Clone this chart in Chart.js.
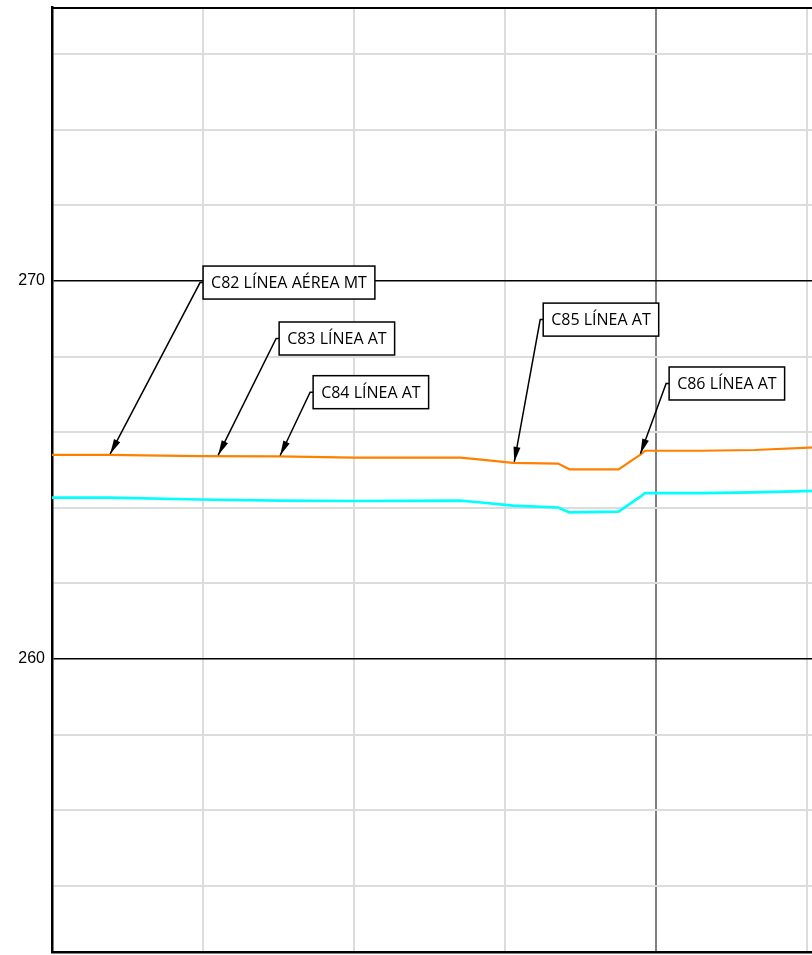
<!DOCTYPE html>
<html>
<head>
<meta charset="utf-8">
<script src="https://cdn.jsdelivr.net/npm/chart.js@4/dist/chart.umd.min.js"></script>
<style>
html, body { margin: 0; padding: 0; background: #fff; overflow: hidden; }
#wrap { position: relative; width: 898px; height: 955px; }
</style>
</head>
<body>
<div id="wrap"><canvas id="graph1"></canvas></div>
<script>
// perfil: abscisa (m) y cotas (m)
var chainage = [20, 27.5, 39.5, 50, 60, 74, 76.5, 81, 87, 88.5, 95, 98, 98.5, 106, 113, 121, 126];
var cotaNaranja = [265.40, 265.40, 265.37, 265.36, 265.33, 265.33, 265.28, 265.19, 265.17, 265.02, 265.02, 265.42, 265.51, 265.51, 265.53, 265.60, 265.66];
var cotaCian = [264.27, 264.27, 264.22, 264.19, 264.18, 264.19, 264.15, 264.06, 264.01, 263.88, 263.90, 264.31, 264.39, 264.39, 264.41, 264.45, 264.48];

var yTicks = [254, 256, 258, 260, 262, 264, 266, 268, 270, 272, 274, 276];
var xTicks = [20, 40, 60, 80, 100, 120];

var labelText = ['C82 LÍNEA AÉREA MT', 'C83 LÍNEA AT', 'C84 LÍNEA AT', 'C85 LÍNEA AT', 'C86 LÍNEA AT'];
var labelChainage = [27.7, 42, 50.2, 81.2, 97.9];

// where the label boxes sit (left edge, middle), in axis units
var boxPos = [[40, 269.96], [50.07, 268.48], [54.57, 267.06], [85.03, 268.98], [101.7, 267.29]];

function cotaAt(x) {
    for (var i = 1; i < chainage.length; i++) {
        if (x <= chainage[i]) {
            var t = (x - chainage[i - 1]) / (chainage[i] - chainage[i - 1]);
            return cotaNaranja[i - 1] + t * (cotaNaranja[i] - cotaNaranja[i - 1]);
        }
    }
    return cotaNaranja[cotaNaranja.length - 1];
}

var etiquetas = {
    id: 'etiquetas',
    beforeDatasetsDraw: function(chart) {
        var c = chart.ctx, a = chart.chartArea;
        c.save();
        c.strokeStyle = '#000';
        c.lineWidth = 2;
        c.beginPath();
        c.moveTo(a.left, a.top + 1);
        c.lineTo(a.right, a.top + 1);
        c.stroke();
        c.restore();
    },
    afterDatasetsDraw: function(chart) {
        var c = chart.ctx;
        var xs = chart.scales.x, ys = chart.scales.y;
        c.save();
        c.font = '16px "Open Sans"';
        c.textBaseline = 'middle';
        for (var i = 0; i < labelText.length; i++) {
            var tx = xs.getPixelForValue(labelChainage[i]);
            var ty = ys.getPixelForValue(cotaAt(labelChainage[i])) - 1;
            var bx = xs.getPixelForValue(boxPos[i][0]);
            var by = ys.getPixelForValue(boxPos[i][1]);
            var w = c.measureText(labelText[i]).width + 16;
            var h = 33;

            // leader
            c.strokeStyle = '#000';
            c.lineWidth = 1.5;
            c.beginPath();
            c.moveTo(tx, ty);
            c.lineTo(bx - 3, by);
            c.lineTo(bx, by);
            c.stroke();

            // arrow head
            var ang = Math.atan2(ty - by, tx - (bx - 3));
            var L = 15, hw = 3.5;
            c.fillStyle = '#000';
            c.beginPath();
            c.moveTo(tx, ty);
            c.lineTo(tx - L * Math.cos(ang) + hw * Math.sin(ang), ty - L * Math.sin(ang) - hw * Math.cos(ang));
            c.lineTo(tx - L * Math.cos(ang) - hw * Math.sin(ang), ty - L * Math.sin(ang) + hw * Math.cos(ang));
            c.closePath();
            c.fill();

            // box
            c.fillStyle = '#fff';
            c.fillRect(bx, by - h / 2, w, h);
            c.strokeRect(bx, by - h / 2, w, h);
            c.fillStyle = '#000';
            c.fillText(labelText[i], bx + 8, by + 1);
        }
        c.restore();
    }
};

var ctx = document.getElementById('graph1');

var data = {
    labels: chainage,
    datasets: [{
        label: 'naranja',
        data: chainage.map(function(x, i) { return { x: x, y: cotaNaranja[i] }; }),
        borderColor: '#ff8000',
        borderWidth: 2.2
    },
    {
        label: 'cian',
        data: chainage.map(function(x, i) { return { x: x, y: cotaCian[i] }; }),
        borderColor: '#00ffff',
        borderWidth: 2.6
    }]
};

var options = {
    responsive: true,
    maintainAspectRatio: false,
    animation: false,
    layout: { padding: { top: 7, bottom: 3, left: 0, right: 0 } },
    elements: { point: { radius: 0 }, line: { tension: 0 } },
    plugins: { legend: { display: false }, tooltip: { enabled: false } },
    scales: {
        x: {
            type: 'linear',
            min: 20,
            max: 132,
            afterBuildTicks: function(s) { s.ticks = xTicks.map(function(v) { return { value: v }; }); },
            afterFit: function(s) { s.height = 0; s.paddingLeft = 0; s.paddingRight = 0; },
            ticks: { display: false },
            grid: {
                drawTicks: false,
                color: function(c) { return c.tick && c.tick.value === 100 ? '#808080' : '#dcdcdc'; },
                lineWidth: 2
            },
            border: { color: '#000', width: 2.5 }
        },
        y: {
            min: 252.25,
            max: 277.25,
            afterBuildTicks: function(s) { s.ticks = yTicks.map(function(v) { return { value: v }; }); },
            afterFit: function(s) { s.width = 52; s.paddingTop = 0; s.paddingBottom = 0; },
            ticks: {
                padding: 7,
                color: '#000',
                font: { family: '"Liberation Sans", Arial', size: 16 },
                callback: function(v) { return v % 10 === 0 ? String(v) : ''; }
            },
            grid: {
                drawTicks: false,
                color: function(c) { return c.tick && c.tick.value % 10 === 0 ? '#000' : '#dcdcdc'; },
                lineWidth: function(c) { return c.tick && c.tick.value % 10 === 0 ? 1.5 : 2; }
            },
            border: { color: '#000', width: 2.5 }
        }
    }
};

var myChart = new Chart(ctx, {
    type: 'line',
    data: data,
    options: options,
    plugins: [etiquetas]
});
</script>
</body>
</html>
